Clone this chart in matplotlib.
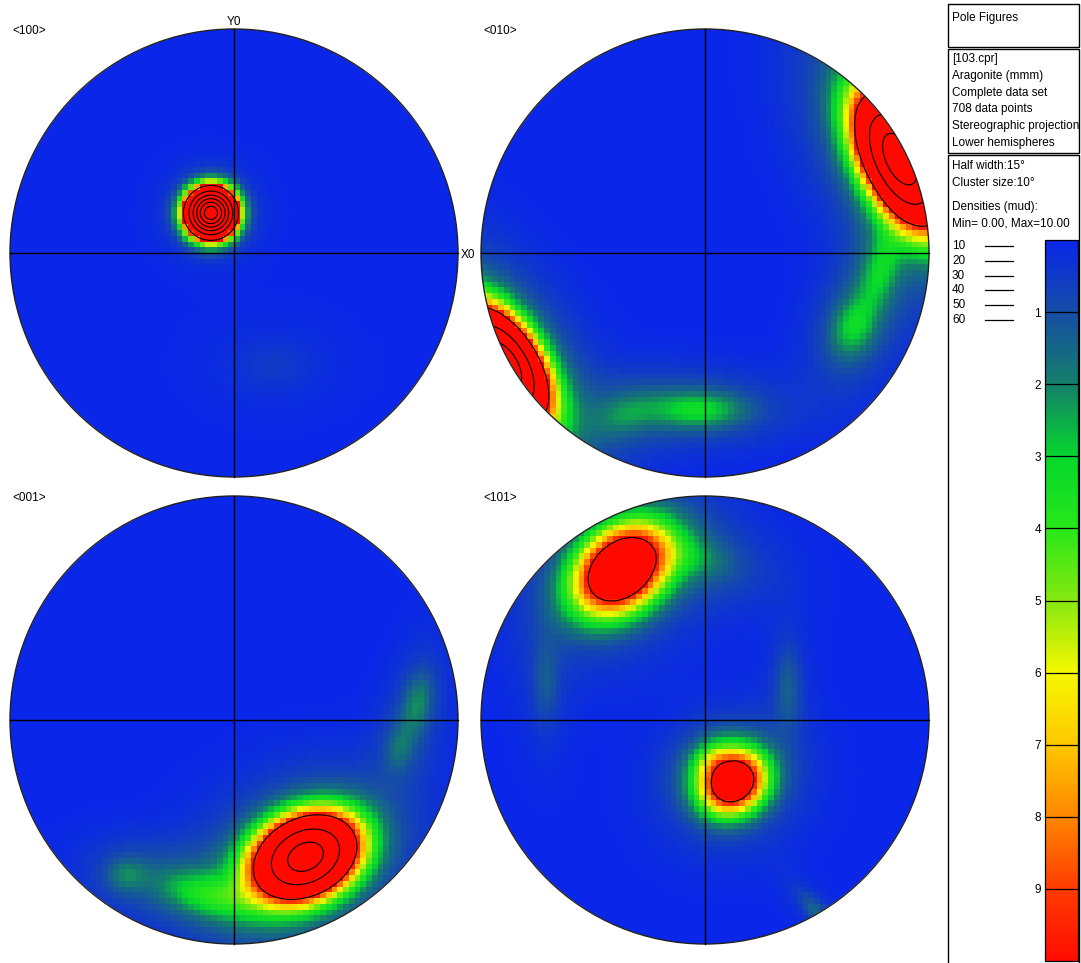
import numpy as np
import matplotlib
matplotlib.use("Agg")
import matplotlib.pyplot as plt
from matplotlib.colors import LinearSegmentedColormap, Normalize
from matplotlib.patches import Circle, Rectangle
from matplotlib.cm import ScalarMappable

plt.rcParams['font.family'] = ['Liberation Sans', 'DejaVu Sans']

# ---------------------------------------------------------------------------
# Pole figure data: density clusters in projection-plane units (radius = 1)
# each entry: (x, y, sigma_major, sigma_minor, major_axis_angle_deg,
#              core_peak_mud, halo_peak_mud)
# ---------------------------------------------------------------------------
CLUSTERS_100 = [
    (-0.103, 0.179, 0.062, 0.062, 0, 66.0, 1.0),
    (0.18, -0.50, 0.12, 0.08, 0, 0.3, 0.2),
]
CLUSTERS_010 = [
    (0.87, 0.42, 0.19, 0.095, 116, 34.0, 2.5),
    (-0.90, -0.50, 0.17, 0.09, 122, 35.0, 2.5),
    (0.66, -0.33, 0.09, 0.06, 72, 1.8, 1.0),
    (0.78, -0.08, 0.12, 0.05, 75, 1.6, 0.8),
    (-0.03, -0.70, 0.14, 0.055, 0, 2.2, 1.0),
    (-0.35, -0.72, 0.10, 0.06, 20, 1.0, 0.5),
]
CLUSTERS_001 = [
    (0.32, -0.61, 0.145, 0.105, 25, 33.0, 2.0),
    (-0.12, -0.78, 0.14, 0.06, -14, 2.0, 1.2),
    (-0.48, -0.69, 0.06, 0.05, 0, 1.1, 0.4),
    (0.82, 0.076, 0.10, 0.045, 80, 1.4, 0.6),
    (0.74, -0.12, 0.07, 0.04, 80, 0.9, 0.4),
]
CLUSTERS_101 = [
    (-0.375, 0.67, 0.15, 0.11, 40, 16.0, 1.2),
    (0.125, -0.277, 0.10, 0.088, 35, 14.0, 1.2),
    (-0.05, 0.73, 0.12, 0.06, -15, 0.9, 0.8),
    (0.37, 0.147, 0.04, 0.13, 0, 1.0, 0.3),
    (-0.71, 0.165, 0.04, 0.13, 0, 0.8, 0.3),
    (0.02, -0.17, 0.06, 0.045, 35, 1.3, 0.8),
    (0.50, -0.86, 0.08, 0.03, -50, 1.2, 0.3),
]
HALO_SCALE = 2.2

FIGURE_LABELS = ["<100>", "<010>", "<001>", "<101>"]
CONTOUR_LEVELS = [10, 20, 30, 40, 50, 60]
COLORBAR_TICKS = [1, 2, 3, 4, 5, 6, 7, 8, 9]
DENSITY_MIN, DENSITY_MAX = 0.0, 10.0

INFO_TITLE = "Pole Figures"
INFO_LINES = ["[103.cpr]", "Aragonite (mmm)", "Complete data set",
              "708 data points", "Stereographic projection", "Lower hemispheres"]
SETTING_LINES = ["Half width:15°", "Cluster size:10°"]
DENSITY_LINES = ["Densities (mud):", "Min= 0.00, Max=10.00"]

# colour ramp of the density scale (value, rgb)
RAMP = [
    (0, (10, 38, 232)), (1, (22, 78, 165)), (2, (20, 128, 105)),
    (3, (5, 215, 45)), (4, (40, 232, 25)), (5, (135, 232, 15)),
    (6, (245, 248, 0)), (7, (255, 200, 0)), (8, (255, 135, 0)),
    (9, (255, 60, 0)), (10, (255, 12, 0)),
]

# ---------------------------------------------------------------------------
W, H = 1081, 963
fig = plt.figure(figsize=(W / 100, H / 100), dpi=100)
ax = fig.add_axes([0, 0, 1, 1])
ax.set_xlim(0, W)
ax.set_ylim(H, 0)
ax.axis('off')

cmap = LinearSegmentedColormap.from_list(
    "mud", [(v / 10.0, tuple(c / 255 for c in rgb)) for v, rgb in RAMP])
cmap.set_over((1.0, 0.03, 0.0))
norm = Normalize(DENSITY_MIN, DENSITY_MAX)


def density(x, y, clusters):
    d = np.zeros_like(x)
    for cx, cy, sa, sb, ang, peak, halo in clusters:
        t = np.deg2rad(ang)
        dx, dy = x - cx, y - cy
        u = dx * np.cos(t) + dy * np.sin(t)
        v = -dx * np.sin(t) + dy * np.cos(t)
        q = (u / sa) ** 2 + (v / sb) ** 2
        d += peak * np.exp(-0.5 * q) + halo * np.exp(-0.5 * q / HALO_SCALE ** 2)
    return d


R = 224.0
centers = [(234, 253), (705, 253), (234, 720), (705, 720)]
all_clusters = [CLUSTERS_100, CLUSTERS_010, CLUSTERS_001, CLUSTERS_101]

NCELL = 78
edges = np.linspace(-1, 1, NCELL + 1)
mids = 0.5 * (edges[:-1] + edges[1:])
fine = np.linspace(-1, 1, 400)

for (cx, cy), clusters, label in zip(centers, all_clusters, FIGURE_LABELS):
    clip = Circle((cx, cy), R, transform=ax.transData, facecolor='none')
    ax.add_patch(clip)
    clip.set_visible(False)

    mx, my = np.meshgrid(mids, mids)
    d = density(mx, my, clusters)
    ex, ey = np.meshgrid(edges, edges)
    mesh = ax.pcolormesh(cx + R * ex, cy - R * ey, d, cmap=cmap, norm=norm,
                         shading='flat', zorder=1)
    mesh.set_clip_path(clip)

    fx, fy = np.meshgrid(fine, fine)
    fd = density(fx, fy, clusters)
    cs = ax.contour(cx + R * fx, cy - R * fy, fd, levels=CONTOUR_LEVELS,
                    colors='black', linewidths=0.8, zorder=2)
    cs.set_clip_path(clip)

    ax.add_patch(Circle((cx, cy), R, facecolor='none', edgecolor='#202020',
                        linewidth=1.0, zorder=3))
    ax.plot([cx - R, cx + R], [cy, cy], color='black', lw=1.0, zorder=3)
    ax.plot([cx, cx], [cy - R, cy + R], color='black', lw=1.0, zorder=3)

    ax.text(cx - 222, cy - 222, label, fontsize=8.5, ha='left', va='center',
            zorder=4)

# axis reference labels
ax.text(234, 22, "Y0", fontsize=8.5, ha='center', va='center')
ax.text(468, 255, "X0", fontsize=8.5, ha='center', va='center')

# information panel
for (y0, h) in [(4, 43), (49, 104), (155, 812)]:
    ax.add_patch(Rectangle((948, y0), 131, h, facecolor='none',
                           edgecolor='black', linewidth=1.0, clip_on=False))

ax.text(952, 18, INFO_TITLE, fontsize=8.5, ha='left', va='center')
for i, line in enumerate(INFO_LINES):
    ax.text(952, 59 + 16.8 * i, line, fontsize=8.5, ha='left', va='center')
for i, line in enumerate(SETTING_LINES):
    ax.text(952, 166 + 16.5 * i, line, fontsize=8.5, ha='left', va='center')
for i, line in enumerate(DENSITY_LINES):
    ax.text(952, 207 + 16.5 * i, line, fontsize=8.5, ha='left', va='center')

for i, lev in enumerate(CONTOUR_LEVELS):
    yy = 246 + 14.8 * i
    ax.text(952, yy, str(lev), fontsize=8.5, ha='left', va='center')
    ax.plot([985, 1013], [yy, yy], color='black', lw=0.9)

# density scale bar
cax = fig.add_axes([1045 / W, 1 - 961 / H, 33 / W, 721 / H])
cb = fig.colorbar(ScalarMappable(norm=norm, cmap=cmap), cax=cax,
                  ticks=COLORBAR_TICKS)
cax.invert_yaxis()
cax.yaxis.set_ticks_position('left')
cax.tick_params(length=0, pad=3, labelsize=8.5)
cb.outline.set_linewidth(0.9)
for v in COLORBAR_TICKS:
    cax.axhline(v, color='black', lw=0.9)

fig.savefig("out.png", dpi=100)
